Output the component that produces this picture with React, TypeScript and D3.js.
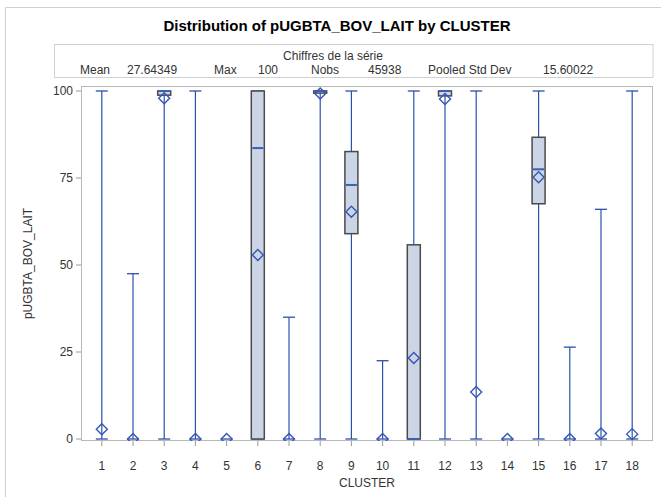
import React from "react";
import * as d3 from "d3";

const clusters = ["1","2","3","4","5","6","7","8","9","10","11","12","13","14","15","16","17","18"];
const minVals = [0,0,0,0,0,0,0,0,0,0,0,0,0,0,0,0,0,0];
const q1Vals = [0,0,98.8,0,0,0,0,99.4,59,0,0,98.6,0,0,67.6,0,0,0];
const medianVals = [0,0,100,0,0,83.6,0,100,73,0,0,100,0,0,77.5,0,0,0];
const q3Vals = [0,0,100,0,0,100,0,100,82.6,0,55.8,100,0,0,86.7,0,0,0];
const maxVals = [100,47.5,100,100,0,100,35,100,100,22.5,100,100,100,0,100,26.4,66,100];
const meanVals = [2.8,0,97.9,0,0,52.9,0,99.3,65.3,0,23.3,97.7,13.5,0,75.2,0,1.6,1.4];
const yTicks = [0,25,50,75,100];

const statLabels = ["Mean","27.64349","Max","100","Nobs","45938","Pooled Std Dev","15.60022"];
const statX = [80,127,214,258,311,368,428,543];

const W = 661, H = 497;
const L = 81, R = 653, T = 86, B = 441;
const FONT = "'Liberation Sans', Arial, sans-serif";

export default function App() {
  const x = d3.scalePoint<string>().domain(clusters).range([L, R]).padding(0.667);
  const y = d3.scaleLinear().domain([0, 100]).range([439, 91]);
  const bw = 13;
  const cap = 12;
  const blue = "#2d4fae";
  const rows = clusters.map((c, i) => ({
    c, min: minVals[i], q1: q1Vals[i], med: medianVals[i], q3: q3Vals[i], max: maxVals[i], mean: meanVals[i],
  }));
  return (
    <svg width={W} height={H} style={{ position: "absolute", left: 0, top: 0, background: "#fff" }} fontFamily={FONT}>
      <defs>
        <clipPath id="plotclip">
          <rect x={L} y={T} width={R - L} height={B - T} />
        </clipPath>
      </defs>
      {/* outer border */}
      <line x1={5.5} y1={7.5} x2={W} y2={7.5} stroke="#d0d0d0" />
      <line x1={5.5} y1={7.5} x2={5.5} y2={H} stroke="#d0d0d0" />
      <text x={337} y={31} textAnchor="middle" fontSize={15} fontWeight="bold" fill="#000">
        Distribution of pUGBTA_BOV_LAIT by CLUSTER
      </text>
      {/* stats box */}
      <rect x={54.5} y={44.5} width={R - 54.5} height={33} fill="#fff" stroke="#d0d0d0" />
      <text x={333} y={60} textAnchor="middle" fontSize={12} fill="#333">Chiffres de la série</text>
      {statLabels.map((s, i) => (
        <text key={s + i} x={statX[i]} y={74} fontSize={12} fill="#333">{s}</text>
      ))}
      {/* plot frame */}
      <rect x={L + 0.5} y={T + 0.5} width={R - L - 1} height={B - T - 1} fill="#fff" stroke="#b8b8b8" />
      {/* y axis ticks */}
      {yTicks.map((t) => (
        <g key={t}>
          <line x1={L - 5} x2={L} y1={y(t)} y2={y(t)} stroke="#999" />
          <text x={L - 8} y={y(t) + 4} textAnchor="end" fontSize={12} fill="#333">{t}</text>
        </g>
      ))}
      {/* x axis ticks */}
      {clusters.map((c) => (
        <g key={c}>
          <line x1={x(c)!} x2={x(c)!} y1={B} y2={B + 5} stroke="#999" />
          <text x={x(c)!} y={470} textAnchor="middle" fontSize={12} fill="#333">{c}</text>
        </g>
      ))}
      <text x={(L + R) / 2} y={487} textAnchor="middle" fontSize={12} fill="#333">CLUSTER</text>
      <text transform={`translate(32,${(T + B) / 2}) rotate(-90)`} textAnchor="middle" fontSize={12} fill="#333">
        pUGBTA_BOV_LAIT
      </text>
      <g clipPath="url(#plotclip)">
        {rows.map((d) => {
          const cx = x(d.c)!;
          return (
            <g key={d.c}>
              {d.q1 > d.min && <line x1={cx} x2={cx} y1={y(d.min)} y2={y(d.q1)} stroke={blue} strokeWidth={1.2} />}
              {d.max > d.q3 && <line x1={cx} x2={cx} y1={y(d.q3)} y2={y(d.max)} stroke={blue} strokeWidth={1.2} />}
              <line x1={cx - cap / 2} x2={cx + cap / 2} y1={y(d.min)} y2={y(d.min)} stroke={blue} strokeWidth={1.3} />
              {d.max > d.min && (
                <line x1={cx - cap / 2} x2={cx + cap / 2} y1={y(d.max)} y2={y(d.max)} stroke={blue} strokeWidth={1.3} />
              )}
              {d.q3 > d.q1 && (
                <rect x={cx - bw / 2} y={y(d.q3)} width={bw} height={y(d.q1) - y(d.q3)} fill="#cbd5e5" stroke="#4a4a4a" strokeWidth={1.5} />
              )}
              {d.q3 > d.q1 && (
                <line x1={cx - bw / 2 + 1} x2={cx + bw / 2 - 1} y1={y(d.med)} y2={y(d.med)} stroke="#3d5fb5" strokeWidth={2} />
              )}
              <path
                d={`M${cx},${y(d.mean) - 5.5}L${cx + 5.5},${y(d.mean)}L${cx},${y(d.mean) + 5.5}L${cx - 5.5},${y(d.mean)}Z`}
                fill="none"
                stroke="#3456b5"
                strokeWidth={1.4}
              />
            </g>
          );
        })}
      </g>
    </svg>
  );
}
